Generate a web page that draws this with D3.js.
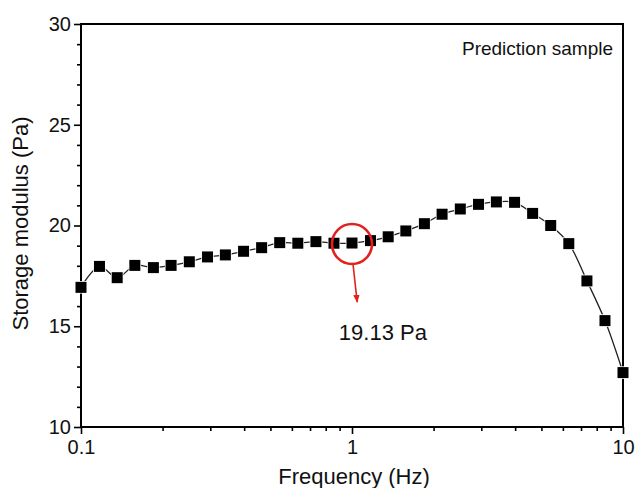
<!DOCTYPE html>
<html>
<head>
<meta charset="utf-8">
<script src="https://cdn.jsdelivr.net/npm/d3@7"></script>
<style>
  body { margin: 0; background: #fff; }
  svg { font-family: "Liberation Sans", Arial, sans-serif; }
</style>
</head>
<body>
<svg width="635" height="488"></svg>
<script>
// data
const freq = [0.1, 0.117, 0.136, 0.158, 0.185, 0.215, 0.251, 0.293, 0.341, 0.398, 0.464,
  0.541, 0.631, 0.736, 0.858, 1.0, 1.17, 1.36, 1.58, 1.85, 2.15, 2.51, 2.93, 3.41, 3.98,
  4.64, 5.41, 6.31, 7.36, 8.58, 10];
const modulus = [16.93, 17.97, 17.41, 18.02, 17.91, 18.02, 18.2, 18.44, 18.54, 18.72, 18.9,
  19.15, 19.12, 19.2, 19.12, 19.13, 19.25, 19.44, 19.73, 20.09, 20.56, 20.82, 21.05, 21.17, 21.15,
  20.6, 20.0, 19.1, 17.25, 15.28, 12.7];
const yMajor = [10, 15, 20, 25, 30];
const yMinor = [11, 12, 13, 14, 16, 17, 18, 19, 21, 22, 23, 24, 26, 27, 28, 29];
const xMajor = [0.1, 1, 10];
const xMinor = [0.2, 0.3, 0.4, 0.5, 0.6, 0.7, 0.8, 0.9, 2, 3, 4, 5, 6, 7, 8, 9];
const marked = {f: 1, v: 19.13, label: "19.13 Pa"};

const svg = d3.select('svg');
const margin = {top: 24, left: 81, right: 12, bottom: 61};
const width = 635, height = 488;
const innerWidth = width - margin.left - margin.right;
const innerHeight = height - margin.top - margin.bottom;

const g = svg.append('g').attr('transform', `translate(${margin.left},${margin.top})`);

const xScale = d3.scaleLog().domain([0.1, 10]).range([0, innerWidth]);
const yScale = d3.scaleLinear().domain([10, 30]).range([innerHeight, 0]);

// minor ticks (no labels)
g.append('g').attr('transform', `translate(0,${innerHeight})`)
  .call(d3.axisBottom(xScale).tickValues(xMinor).tickSize(4).tickFormat(''))
  .call(a => a.select('.domain').remove())
  .call(a => a.selectAll('text').remove());
g.append('g')
  .call(d3.axisLeft(yScale).tickValues(yMinor).tickSize(4).tickFormat(''))
  .call(a => a.select('.domain').remove())
  .call(a => a.selectAll('text').remove());

// major ticks + labels
const xAx = g.append('g').attr('transform', `translate(0,${innerHeight})`)
  .call(d3.axisBottom(xScale).tickValues(xMajor).tickSize(7).tickFormat(d3.format('')))
  .call(a => a.select('.domain').remove());
xAx.selectAll('text').attr('font-size', 20).attr('fill', '#111').attr('dy', '0.85em');

const yAx = g.append('g')
  .call(d3.axisLeft(yScale).tickValues(yMajor).tickSize(7))
  .call(a => a.select('.domain').remove());
yAx.selectAll('text').attr('font-size', 20).attr('fill', '#111').attr('x', -10);

g.selectAll('.tick line').attr('stroke', '#000').attr('stroke-width', 1.6);

// frame
g.append('rect')
  .attr('width', innerWidth).attr('height', innerHeight)
  .attr('fill', 'none').attr('stroke', '#000').attr('stroke-width', 2);

// axis titles
g.append('text')
  .attr('x', innerWidth / 2 + 2).attr('y', innerHeight + 57)
  .attr('text-anchor', 'middle').attr('font-size', 22).attr('fill', '#111')
  .text('Frequency (Hz)');
g.append('text')
  .attr('transform', 'rotate(-90)')
  .attr('x', -innerHeight / 2 + 2).attr('y', -53)
  .attr('text-anchor', 'middle').attr('font-size', 22).attr('fill', '#111')
  .text('Storage modulus (Pa)');

g.append('text')
  .attr('x', innerWidth - 10).attr('y', 31)
  .attr('text-anchor', 'end').attr('font-size', 19).attr('fill', '#111')
  .text('Prediction sample');

// series
const pts = freq.map((f, i) => ({f: f, v: modulus[i]}));
const line = d3.line()
  .x(d => xScale(d.f))
  .y(d => yScale(d.v))
  .curve(d3.curveCatmullRom);

g.append('path')
  .datum(pts)
  .attr('d', line)
  .attr('fill', 'none')
  .attr('stroke', '#222')
  .attr('stroke-width', 1.3);

const sq = 11;
g.selectAll('.pt')
  .data(pts)
  .join('rect')
  .attr('class', 'pt')
  .attr('x', d => xScale(d.f) - sq / 2)
  .attr('y', d => yScale(d.v) - sq / 2)
  .attr('width', sq).attr('height', sq)
  .attr('fill', '#000')
  .attr('stroke', '#fff')
  .attr('stroke-width', 1.5)
  .attr('paint-order', 'stroke');

// red annotation
const red = '#e3211c';
const cx = xScale(marked.f), cy = yScale(marked.v);
g.append('circle')
  .attr('cx', cx).attr('cy', cy + 1).attr('r', 20)
  .attr('fill', 'none').attr('stroke', red).attr('stroke-width', 2.6);

svg.append('defs').append('marker')
  .attr('id', 'arr').attr('viewBox', '0 0 10 10')
  .attr('refX', 9).attr('refY', 5)
  .attr('markerWidth', 5).attr('markerHeight', 5)
  .attr('orient', 'auto-start-reverse')
  .append('path').attr('d', 'M0,1 L10,5 L0,9 Z').attr('fill', red);

g.append('line')
  .attr('x1', cx + 1).attr('y1', cy + 21)
  .attr('x2', xScale(1.045)).attr('y2', yScale(16.2))
  .attr('stroke', red).attr('stroke-width', 1.6)
  .attr('marker-end', 'url(#arr)');

g.append('text')
  .attr('x', xScale(1.3)).attr('y', yScale(14.3))
  .attr('text-anchor', 'middle').attr('font-size', 22).attr('fill', '#111')
  .text(marked.label);
</script>
</body>
</html>
